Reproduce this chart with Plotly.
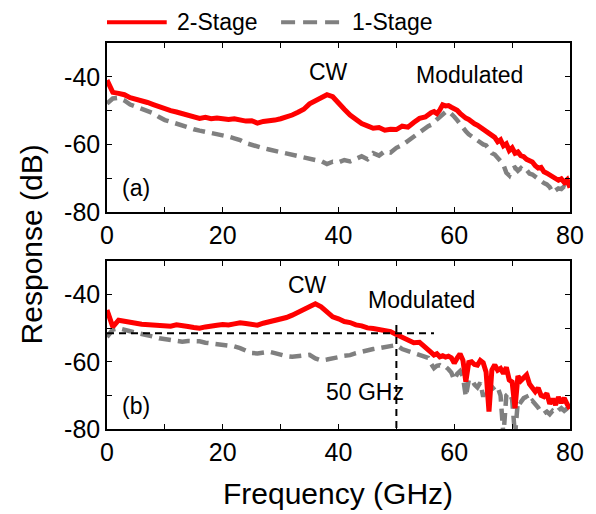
import plotly.graph_objects as go

# frequency grid (GHz): 1 GHz steps, then 0.5 GHz where the traces get noisy
freq = list(range(0, 56)) + [55.5, 56, 56.5, 57, 57.5, 58, 58.5, 59, 59.5, 60,
                             60.5, 61, 61.5, 62, 62.5, 63, 63.5, 64, 64.5, 65,
                             65.5, 66, 66.5, 67, 67.5, 68, 68.5, 69, 69.5, 70,
                             70.5, 71, 71.5, 72, 72.5, 73, 73.5, 74, 74.5, 75,
                             75.5, 76, 76.5, 77, 77.5, 78, 78.5, 79, 79.5, 80]

# panel (a) responses (dB)
a_two_stage = [-41.0, -44.6, -44.9, -45.3, -46.2, -46.6, -47.0, -47.6, -48.2, -48.9,
               -49.7, -50.0, -50.4, -50.9, -51.5, -52.1, -52.3, -52.0, -52.4, -52.2,
               -52.5, -52.6, -52.4, -52.9, -53.1, -53.0, -53.7, -53.2, -53.1, -52.8,
               -52.4, -52.0, -51.3, -50.5, -49.6, -48.0, -47.0, -46.0, -45.3, -45.9,
               -47.5, -49.6, -51.3, -52.6, -53.8, -54.5, -55.2, -55.0, -55.8, -55.5,
               -55.6, -54.6, -54.9, -53.5, -52.3, -51.9,
               -51.2, -50.6, -50.3, -50.9, -49.8, -48.3, -48.6, -48.5, -49.0, -49.3,
               -49.9, -50.8, -51.6, -52.2, -52.6, -53.4, -53.9, -54.3, -54.9, -55.4,
               -56.0, -56.5, -57.0, -57.9, -59.2, -58.6, -60.4, -59.8, -61.8, -61.0,
               -62.6, -62.2, -63.3, -63.6, -64.4, -64.9, -65.2, -66.3, -67.0, -66.8,
               -68.1, -68.5, -69.0, -69.6, -69.9, -70.6, -70.2, -71.2, -70.4, -72.8]
a_one_stage = [-47.9, -46.4, -46.2, -47.0, -48.2, -48.8, -49.3, -50.0, -50.8, -51.9,
               -52.8, -53.3, -53.9, -54.4, -54.9, -55.5, -55.9, -56.2, -56.6, -56.9,
               -57.3, -57.7, -58.2, -58.7, -59.6, -60.2, -60.6, -61.1, -61.5, -61.9,
               -62.3, -62.8, -63.3, -63.6, -63.9, -64.3, -64.6, -64.9, -65.8, -65.1,
               -65.3, -64.6, -65.0, -64.3, -63.5, -64.4, -62.6, -63.3, -62.0, -62.4,
               -61.0, -60.2, -58.9, -57.6, -56.5, -55.4,
               -54.6, -54.2, -53.6, -52.6, -51.9, -51.0, -50.4, -50.2, -50.9, -51.8,
               -52.8, -54.0, -55.0, -56.1, -57.0, -57.6, -58.5, -59.0, -59.4, -60.0,
               -60.3, -61.5, -62.6, -63.0, -64.2, -64.9, -66.0, -68.4, -69.2, -67.2,
               -66.8, -67.8, -67.0, -67.9, -67.5, -68.6, -68.9, -69.6, -69.9, -70.8,
               -71.4, -71.8, -72.6, -74.2, -73.6, -73.0, -73.2, -72.4, -72.9, -73.4]

# panel (b) responses (dB)
b_two_stage = [-44.6, -49.6, -47.6, -48.0, -48.3, -48.5, -48.8, -48.9, -49.2, -49.4,
               -49.5, -49.4, -49.0, -49.1, -49.5, -49.8, -50.0, -49.6, -49.2, -49.1,
               -48.9, -49.0, -48.7, -48.4, -48.6, -48.8, -49.1, -48.5, -48.1, -47.7,
               -47.3, -46.8, -46.1, -45.3, -44.5, -43.6, -42.7, -43.6, -45.1, -46.6,
               -47.2, -48.0, -48.3, -49.0, -49.3, -49.9, -50.1, -50.4, -50.6, -51.0,
               -51.9, -52.6, -53.2, -54.3, -54.2, -55.5,
               -56.3, -57.2, -58.0, -57.6, -58.5, -58.2, -58.6, -58.3, -58.8, -60.4,
               -58.9, -57.6, -59.5, -65.9, -60.2, -60.0, -60.8, -61.0, -59.6, -60.3,
               -63.0, -74.8, -62.4, -60.9, -62.5, -62.0, -63.5, -61.6, -65.4, -66.0,
               -73.8, -64.2, -65.6, -64.8, -63.9, -66.6, -68.0, -68.9, -67.8, -70.0,
               -70.4, -69.4, -72.5, -71.0, -72.8, -70.5, -72.2, -70.8, -72.6, -74.0]
b_one_stage = [-52.6, -50.4, -50.0, -50.3, -50.9, -51.3, -51.6, -51.9, -52.5, -53.0,
               -53.3, -53.6, -53.8, -54.0, -53.8, -53.7, -53.9, -54.3, -54.5, -54.7,
               -54.9, -55.0, -55.4, -55.9, -56.6, -57.4, -57.5, -57.2, -57.0, -57.4,
               -58.0, -58.3, -58.5, -58.4, -58.1, -57.9, -59.0, -59.6, -59.3, -58.8,
               -58.6, -58.2, -58.0, -57.4, -56.9, -56.5, -56.2, -55.9, -55.7, -55.3,
               -55.0, -56.2, -56.8, -57.3, -58.0, -58.4,
               -58.8, -60.6, -61.9, -61.2, -61.0, -61.6, -61.4, -62.2, -63.2, -65.4,
               -63.6, -62.8, -64.4, -70.4, -65.5, -65.2, -66.8, -67.6, -66.2, -70.4,
               -67.0, -66.4, -67.2, -68.4, -67.6, -70.0, -82.0, -70.0, -69.2, -71.2,
               -82.0, -71.5, -72.0, -70.8, -70.4, -72.2, -71.6, -72.4, -73.6, -75.0,
               -75.4, -74.8, -75.6, -74.6, -75.2, -74.4, -73.8, -74.6, -73.9, -75.2]

ref_level = -51.5     # horizontal guide in (b)
ref_freq = 50         # 50 GHz marker
ref_top = -49.0
ref_end = 56.5

y_ticks = [-80, -60, -40]
y_labels = ["-80", "-60", "-40"]

RED = "#ff0000"
GRAY = "#808080"
FONT = "Arial, Liberation Sans, sans-serif"

fig = go.Figure()
fig.add_trace(go.Scatter(x=freq, y=a_one_stage, mode="lines", xaxis="x", yaxis="y",
                         line=dict(color=GRAY, width=4.5, dash="12px,7px")))
fig.add_trace(go.Scatter(x=freq, y=a_two_stage, mode="lines", xaxis="x", yaxis="y",
                         line=dict(color=RED, width=5)))
fig.add_trace(go.Scatter(x=freq, y=b_one_stage, mode="lines", xaxis="x2", yaxis="y2",
                         line=dict(color=GRAY, width=4.5, dash="12px,7px")))
fig.add_trace(go.Scatter(x=freq, y=b_two_stage, mode="lines", xaxis="x2", yaxis="y2",
                         line=dict(color=RED, width=5)))

xax = dict(range=[0, 80], tick0=0, dtick=20, ticks="inside", ticklen=5,
           showline=True, linecolor="black", linewidth=1.5, mirror="ticks",
           showgrid=False, zeroline=False, tickcolor="black", ticklabeloverflow="allow",
           tickfont=dict(size=25, color="black", family=FONT),
           minor=dict(dtick=10, tick0=0, ticks="inside", ticklen=5, tickcolor="black"))
yax = dict(range=[-80, -30], tickmode="array", tickvals=y_ticks, ticktext=y_labels,
           ticks="inside", ticklen=5,
           showline=True, linecolor="black", linewidth=1.5, mirror="ticks",
           showgrid=False, zeroline=False, tickcolor="black",
           tickfont=dict(size=25, color="black", family=FONT),
           minor=dict(tickmode="linear", dtick=10, tick0=-80, ticks="inside", ticklen=5,
                      tickcolor="black"))

# the page only shows about 588px across, so the right margin is trimmed
fig.update_layout(
    width=596, height=514, autosize=False,
    margin=dict(l=107, r=13, t=43, b=85),
    paper_bgcolor="white", plot_bgcolor="white",
    showlegend=False,
    font=dict(family=FONT, color="black"),
    xaxis=dict(xax, anchor="y"),
    yaxis=dict(yax, domain=[0.562, 1], anchor="x"),
    xaxis2=dict(xax, anchor="y2"),
    yaxis2=dict(yax, domain=[0, 0.435], anchor="x2"),
)

# guide lines in panel (b)
fig.add_shape(type="line", xref="x2", yref="y2", x0=0, x1=ref_end, y0=ref_level, y1=ref_level,
              line=dict(color="black", width=2, dash="7px,5px"))
fig.add_shape(type="line", xref="x2", yref="y2", x0=ref_freq, x1=ref_freq, y0=ref_top, y1=-80,
              line=dict(color="black", width=2, dash="7px,5px"))

# legend drawn by hand so the line samples are long
fig.add_shape(type="line", xref="paper", yref="paper", x0=0, x1=0.129, y0=1.054, y1=1.054,
              line=dict(color=RED, width=4))
fig.add_shape(type="line", xref="paper", yref="paper", x0=0.376, x1=0.507, y0=1.054, y1=1.054,
              line=dict(color=GRAY, width=4, dash="14px,8px"))

notes = [
    dict(xref="paper", yref="paper", x=0.146, y=1.054, text="2-Stage", xanchor="left"),
    dict(xref="paper", yref="paper", x=0.524, y=1.054, text="1-Stage", xanchor="left"),
    dict(xref="x", yref="y", x=38.3, y=-38.6, text="CW", xanchor="center"),
    dict(xref="x", yref="y", x=62.7, y=-39.5, text="Modulated", xanchor="center"),
    dict(xref="x", yref="y", x=2.2, y=-73.0, text="(a)", xanchor="left"),
    dict(xref="x2", yref="y2", x=34.6, y=-37.1, text="CW", xanchor="center"),
    dict(xref="x2", yref="y2", x=54.4, y=-41.6, text="Modulated", xanchor="center"),
    dict(xref="x2", yref="y2", x=44.6, y=-69.0, text="50 GHz", xanchor="center"),
    dict(xref="x2", yref="y2", x=2.2, y=-73.2, text="(b)", xanchor="left"),
]
for n in notes:
    fig.add_annotation(xref=n["xref"], yref=n["yref"], x=n["x"], y=n["y"], text=n["text"],
                       showarrow=False, xanchor=n["xanchor"], yanchor="middle",
                       font=dict(size=23, color="black", family=FONT))

fig.add_annotation(xref="paper", yref="paper", x=-0.163, y=0.477, text="Response (dB)",
                   textangle=-90, showarrow=False, xanchor="center", yanchor="middle",
                   font=dict(size=30, color="black", family=FONT))
fig.add_annotation(xref="paper", yref="paper", x=0.499, y=-0.166, text="Frequency (GHz)",
                   showarrow=False, xanchor="center", yanchor="middle",
                   font=dict(size=30, color="black", family=FONT))

# drop the browser's default 8px body margin so the figure starts at the corner
fix_page = ("document.documentElement.style.overflow='hidden';"
            "document.body.style.overflow='hidden';"
            "document.body.style.margin='0';")
fig.write_html("out.html", config={"responsive": False, "displayModeBar": False},
               post_script=fix_page)
